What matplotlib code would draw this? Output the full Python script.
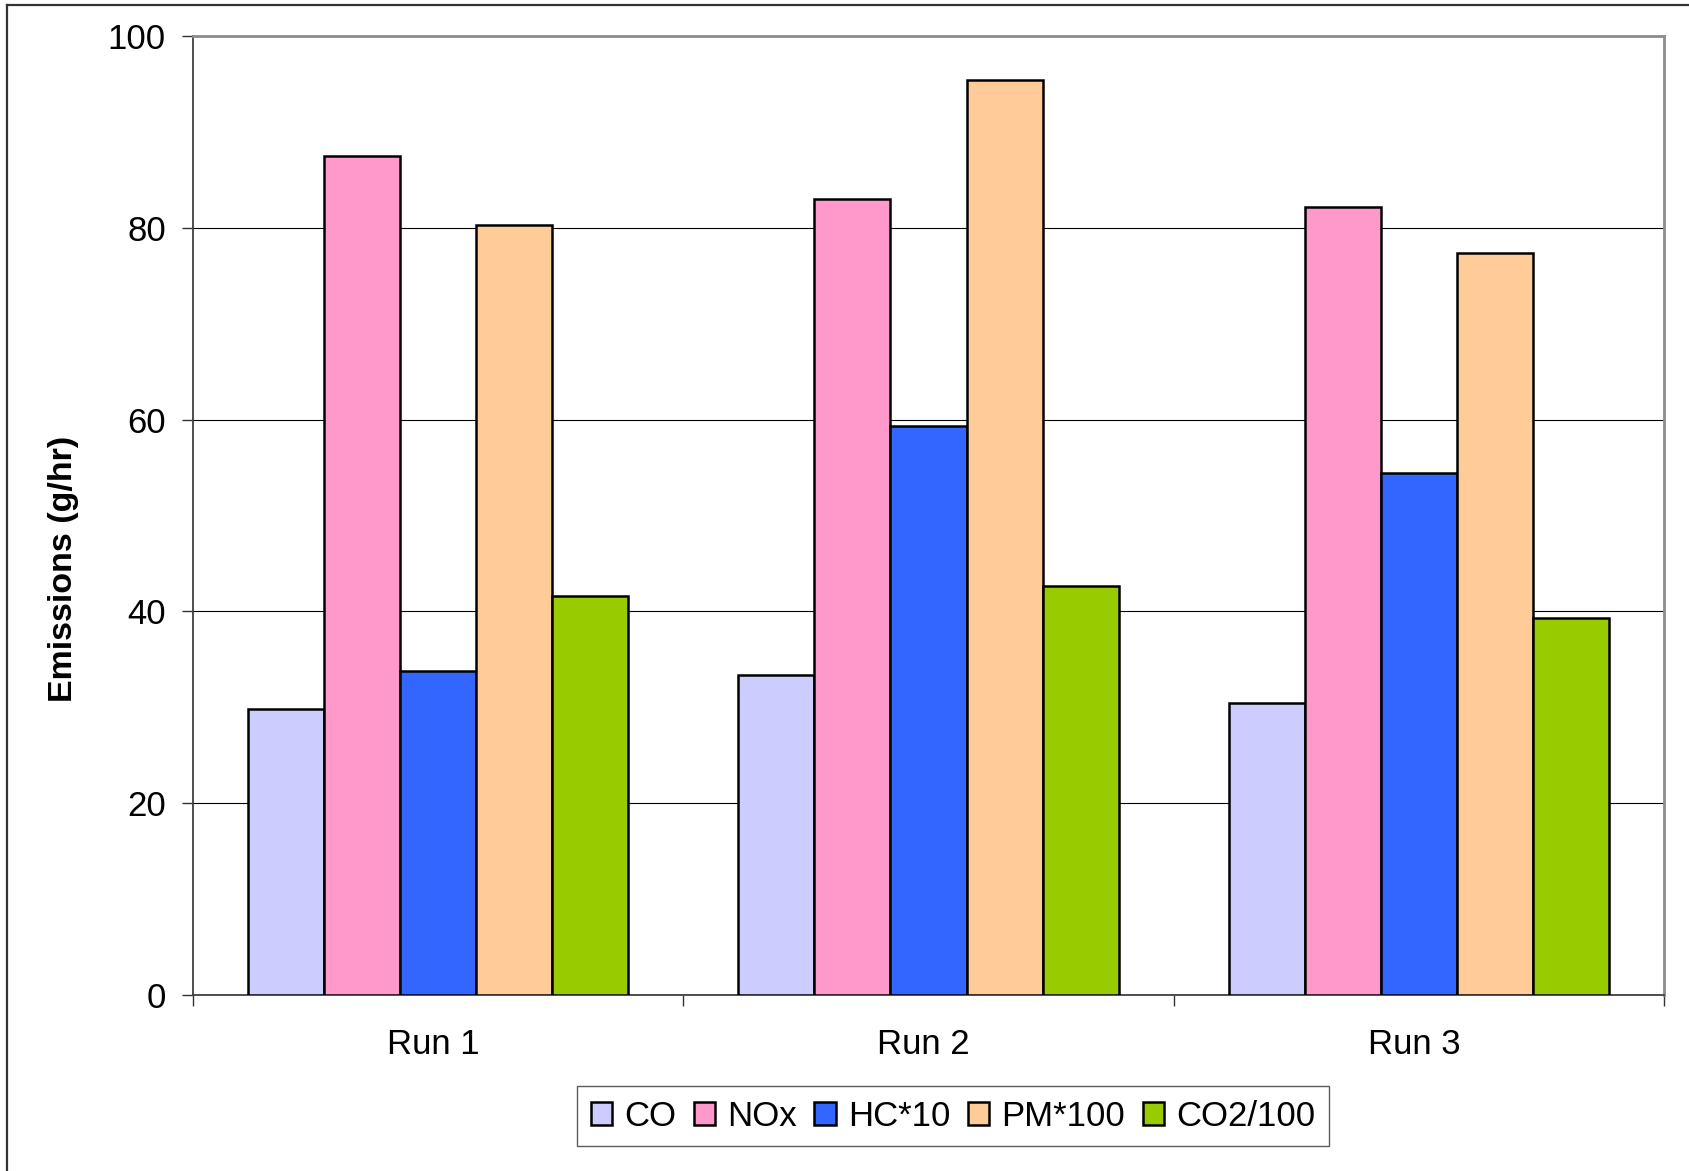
import matplotlib
matplotlib.use("Agg")
import matplotlib.pyplot as plt
import matplotlib.transforms as mtransforms
from matplotlib.patches import Patch
from matplotlib.lines import Line2D
import numpy as np

# Emission data per run (scaled as noted in series names)
runs = ["Run 1", "Run 2", "Run 3"]
series_names = ["CO", "NOx", "HC*10", "PM*100", "CO2/100"]
co = [29.8, 33.4, 30.5]
nox = [87.5, 83.0, 82.2]
hc_x10 = [33.8, 59.3, 54.4]
pm_x100 = [80.3, 95.4, 77.4]
co2_div100 = [41.6, 42.6, 39.3]
y_ticks = [0, 20, 40, 60, 80, 100]

colors = ["#CCCCFF", "#FF99CC", "#3366FF", "#FFCC99", "#99CC00"]
all_series = [co, nox, hc_x10, pm_x100, co2_div100]

plt.rcParams["font.family"] = ["Liberation Sans", "DejaVu Sans"]

W, H = 1690, 1171
fig = plt.figure(figsize=(W / 100, H / 100), dpi=100)
ax = fig.add_axes([193 / W, 1 - 995 / H, (1664 - 193) / W, (995 - 36) / H])

x = np.arange(len(runs))
bar_w = 0.155
n = len(all_series)
for i, (vals, col) in enumerate(zip(all_series, colors)):
    offs = (i - (n - 1) / 2) * bar_w
    ax.bar(x + offs, vals, width=bar_w, color=col, edgecolor="black",
           linewidth=1.8, zorder=3)

ax.set_xlim(-0.5, len(runs) - 0.5)
ax.set_ylim(0, 100)
ax.set_yticks(y_ticks)
ax.set_yticklabels([str(v) for v in y_ticks])
ax.tick_params(axis="y", length=8, width=1, color="#333333", pad=11.5,
               labelsize=25, direction="out")

# category boundaries carry the tick marks, centres carry the labels
ax.set_xticks(np.arange(-0.5, len(runs) + 0.5, 1.0))
ax.set_xticklabels([])
ax.tick_params(axis="x", which="major", length=8, width=1, color="#333333",
               direction="out")
ax.set_xticks(x, minor=True)
ax.set_xticklabels(runs, minor=True)
ax.tick_params(axis="x", which="minor", length=0, pad=23.5, labelsize=25)
shift = mtransforms.ScaledTranslation(-5 / 100, 0, fig.dpi_scale_trans)
for lbl in ax.get_xticklabels(minor=True):
    lbl.set_transform(lbl.get_transform() + shift)

ax.yaxis.grid(True, color="black", linewidth=0.8, zorder=0)
ax.set_axisbelow(True)

for side in ("top", "right"):
    ax.spines[side].set_color("#8c8c8c")
    ax.spines[side].set_linewidth(2.0)
for side in ("left", "bottom"):
    ax.spines[side].set_color("#404040")
    ax.spines[side].set_linewidth(1.3)

fig.text(64 / W, 1 - 569 / H, "Emissions (g/hr)", rotation=90,
         ha="center", va="center", fontsize=24.5, fontweight="bold")

handles = [Patch(facecolor=c, edgecolor="black", linewidth=1.8) for c in colors]
leg = fig.legend(handles, series_names, loc="center",
                 bbox_to_anchor=(953 / W, 1 - 1116 / H), ncol=5,
                 fontsize=25, frameon=True, fancybox=False,
                 handlelength=0.62, handleheight=0.62, handletextpad=0.35,
                 columnspacing=0.5, borderpad=0.4, borderaxespad=0)
leg.get_frame().set_edgecolor("#333333")
leg.get_frame().set_linewidth(1.0)

# outer chart border
fig.add_artist(Line2D([7.5 / W, 1.0], [1 - 5 / H, 1 - 5 / H],
                      transform=fig.transFigure, color="#333333", linewidth=1.6))
fig.add_artist(Line2D([7.5 / W, 7.5 / W], [0.0, 1 - 5 / H],
                      transform=fig.transFigure, color="#333333", linewidth=1.6))

fig.savefig("out.png", dpi=100)
